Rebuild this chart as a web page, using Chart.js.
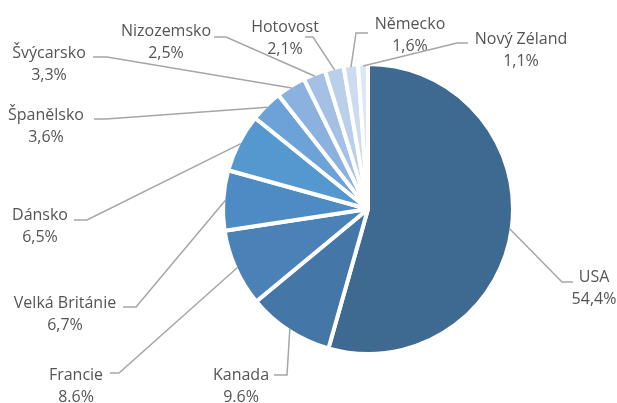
<!DOCTYPE html>
<html>
<head>
<meta charset="utf-8">
<script src="https://cdn.jsdelivr.net/npm/chart.js@4/dist/chart.umd.min.js"></script>
<style>
  html, body { margin: 0; padding: 0; background: #fff; }
  #wrap { width: 617px; height: 403px; position: relative; }
</style>
</head>
<body>
<div id="wrap"><canvas id="pieChart"></canvas></div>
<script>
const countries = ['USA', 'Kanada', 'Francie', 'Velká Británie', 'Dánsko', 'Španělsko',
  'Švýcarsko', 'Nizozemsko', 'Hotovost', 'Německo', 'Nový Zéland'];
const shares = [54.4, 9.6, 8.6, 6.7, 6.5, 3.6, 3.3, 2.5, 2.1, 1.6, 1.1];
const shareLabels = ['54,4%', '9.6%', '8.6%', '6,7%', '6,5%', '3,6%', '3,3%', '2,5%', '2,1%', '1,6%', '1,1%'];

const sliceColors = ['#3E6A92', '#4477A8', '#4A82B8', '#4E8AC3', '#5597CF', '#6DA2D8',
  '#8BB2DE', '#A4C0E4', '#BACFEA', '#CCDBEF', '#DCE6F4'];

// where each label sits: text centre x, first line y, leader elbow x/y, leader end x/y
const labelLayout = [
  [594, 277, 562, 282, 573, 282],
  [241, 375, 287, 375, 274, 375],
  [76, 375, 119, 373, 110, 373],
  [65, 303, 136, 307, 123, 307],
  [40, 215, 87, 220, 74, 220],
  [46, 115, 106, 119, 94, 119],
  [49, 53, 107, 57, 93, 57],
  [166, 31, 226, 37, 214, 37],
  [285, 27, 313, 37, 305, 37],
  [410, 24, 356, 33, 368, 33],
  [521, 39, 457, 43, 468, 43]
];

const outsideLabels = {
  id: 'outsideLabels',
  afterDatasetsDraw(chart) {
    const ctx = chart.ctx;
    const meta = chart.getDatasetMeta(0);
    ctx.save();
    meta.data.forEach((arc, i) => {
      const p = arc.getProps(['x', 'y', 'startAngle', 'endAngle', 'outerRadius'], true);
      const mid = (p.startAngle + p.endAngle) / 2;
      const r = p.outerRadius - 2;
      const [tx, ty, ex, ey, sx, sy] = labelLayout[i];
      ctx.strokeStyle = '#A6A6A6';
      ctx.lineWidth = 1.5;
      ctx.beginPath();
      ctx.moveTo(p.x + Math.cos(mid) * r, p.y + Math.sin(mid) * r);
      ctx.lineTo(ex, ey);
      ctx.lineTo(sx, sy);
      ctx.stroke();

      ctx.fillStyle = '#555555';
      ctx.font = '16px "Open Sans", sans-serif';
      ctx.textAlign = 'center';
      ctx.textBaseline = 'middle';
      ctx.fillText(countries[i], tx, ty);
      ctx.fillText(shareLabels[i], tx, ty + 22);
    });
    ctx.restore();
  }
};

const ctx = document.getElementById('pieChart').getContext('2d');
const pieChart = new Chart(ctx, {
  type: 'pie',
  data: {
    labels: countries,
    datasets: [
      {
        data: shares,
        backgroundColor: sliceColors,
        borderColor: '#FFFFFF',
        borderWidth: 4,
        radius: 145
      }
    ]
  },
  options: {
    responsive: true,
    maintainAspectRatio: false,
    animation: false,
    layout: { padding: { left: 119, right: 0, top: 15, bottom: 0 } },
    plugins: {
      legend: { display: false },
      tooltip: { enabled: false }
    }
  },
  plugins: [outsideLabels]
});
</script>
</body>
</html>
